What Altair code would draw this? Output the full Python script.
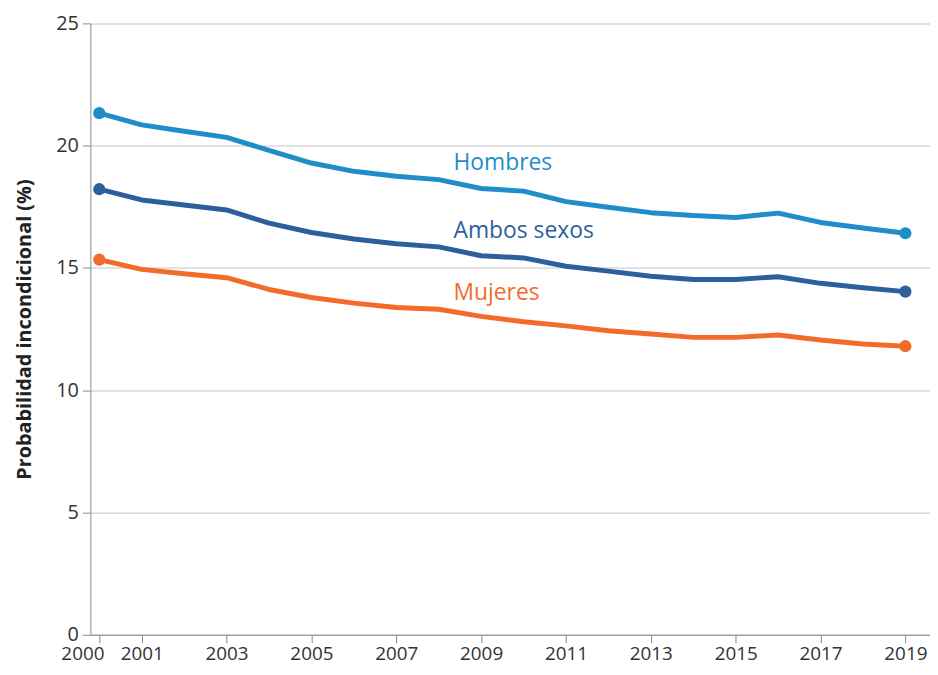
import altair as alt
import pandas as pd

years = list(range(2000, 2020))
hombres = [21.33, 20.85, 20.59, 20.34, 19.81, 19.29, 18.95, 18.75, 18.61, 18.25,
           18.14, 17.71, 17.48, 17.26, 17.14, 17.06, 17.24, 16.86, 16.63, 16.42]
ambos = [18.22, 17.78, 17.57, 17.37, 16.83, 16.45, 16.18, 15.99, 15.86, 15.50,
         15.41, 15.07, 14.87, 14.66, 14.53, 14.53, 14.64, 14.37, 14.19, 14.03]
mujeres = [15.34, 14.94, 14.76, 14.60, 14.12, 13.79, 13.56, 13.38, 13.31, 13.02,
           12.80, 12.63, 12.43, 12.30, 12.16, 12.16, 12.26, 12.05, 11.89, 11.80]

series_names = ["Hombres", "Ambos sexos", "Mujeres"]
series_colors = ["#1f8dc8", "#2c5f9b", "#f26b2a"]
x_ticks = [2000, 2001, 2003, 2005, 2007, 2009, 2011, 2013, 2015, 2017, 2019]
y_ticks = [0, 5, 10, 15, 20, 25]

label_x = [2008.35, 2008.35, 2008.35]
label_y = [19.28, 16.52, 13.96]

rows = []
for name, vals in zip(series_names, [hombres, ambos, mujeres]):
    for yr, v in zip(years, vals):
        rows.append({"serie": name, "year": yr, "value": v})
df = pd.DataFrame(rows)
ends = df[df["year"].isin([2000, 2019])]
labels = pd.DataFrame({"serie": series_names, "year": label_x, "value": label_y})

color = alt.Color("serie:N", scale=alt.Scale(domain=series_names, range=series_colors), legend=None)

x = alt.X("year:Q", scale=alt.Scale(domain=[1999.79, 2019.58], nice=False, zero=False),
          axis=alt.Axis(values=x_ticks, format="d", title=None, grid=False,
                        labelFontSize=19, labelColor="#333333", labelFont="Open Sans",
                        tickColor="#888888", domainColor="#888888", tickSize=8,
                        labelPadding=2, labelFlush=False,
                        labelOffset={"condition": {"test": "datum.value == 2000", "value": -17},
                                     "value": 0}))
y = alt.Y("value:Q", scale=alt.Scale(domain=[0, 25], nice=False),
          axis=alt.Axis(values=y_ticks, title="Probabilidad incondicional (%)",
                        titleFontSize=20, titleFont="Open Sans", titleFontWeight="bold",
                        titleColor="#222222", titlePadding=21,
                        labelFontSize=20, labelColor="#333333", labelFont="Open Sans",
                        tickColor="#888888", domainColor="#888888", tickSize=8,
                        labelPadding=4, gridColor="#d9d9d9", gridWidth=1.5))

lines = alt.Chart(df).mark_line(strokeWidth=5, strokeCap="round", strokeJoin="round").encode(
    x=x, y=y, color=color, detail="serie:N")
points = alt.Chart(ends).mark_circle(size=150, opacity=1).encode(
    x="year:Q", y="value:Q", color=color)
texts = alt.Chart(labels).mark_text(align="left", baseline="middle", fontSize=23,
                                    font="Open Sans").encode(
    x="year:Q", y="value:Q", text="serie:N", color=color)

chart = alt.layer(lines, points, texts).properties(
    width=846, height=616,
    autosize=alt.AutoSizeParams(type="none"),
    padding={"left": 83, "top": 13, "right": 0, "bottom": 30},
).configure_view(stroke=None)

chart.save("out.html", embed_options={"renderer": "svg", "actions": False})
